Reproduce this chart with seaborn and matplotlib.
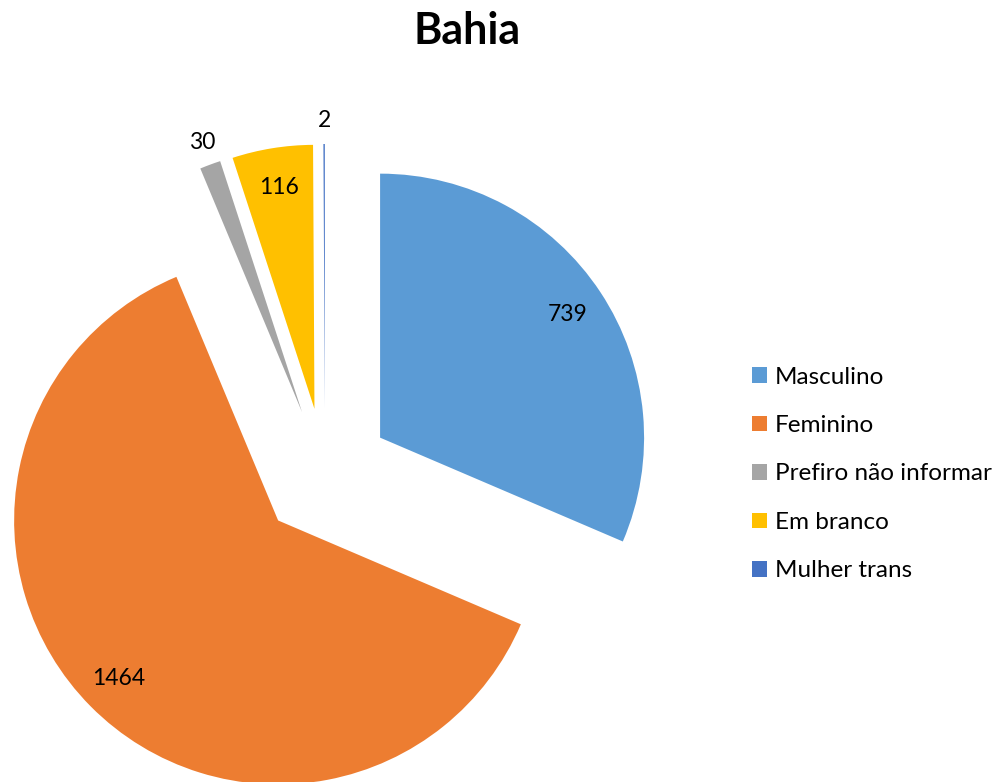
import numpy as np
import seaborn as sns
import matplotlib.pyplot as plt

title = 'Bahia'
categories = ['Masculino', 'Feminino', 'Prefiro não informar', 'Em branco', 'Mulher trans']
counts = [739, 1464, 30, 116, 2]
colors = ['#5B9BD5', '#ED7D31', '#A5A5A5', '#FFC000', '#4472C4']


def draw_pie():
    sns.set_theme(style='white')
    plt.rcParams['font.family'] = ['Lato', 'DejaVu Sans']
    plt.rcParams['text.color'] = 'black'

    fig = plt.figure(figsize=(10.04, 7.82), dpi=100)
    ax = fig.add_axes([0, 0, 1, 1])
    palette = sns.color_palette(colors)

    wedges, _ = ax.pie(counts, colors=palette, startangle=90, counterclock=False,
                       explode=[0.25] * len(counts), radius=1.0,
                       wedgeprops={'linewidth': 0})

    total = sum(counts)
    for wedge, value in zip(wedges, counts):
        mid = np.deg2rad((wedge.theta1 + wedge.theta2) / 2)
        dist = 0.85 if value / total > 0.03 else 1.09
        cx, cy = wedge.center
        ax.text(cx + dist * np.cos(mid), cy + dist * np.sin(mid), str(value),
                ha='center', va='center', fontsize=16.5, color='black')

    # pie centre at about (325, 474) px, radius ~264 px
    scale = 264.0
    ax.set_xlim(-325 / scale, (1004 - 325) / scale)
    ax.set_ylim(-(782 - 474) / scale, 474 / scale)
    ax.set_aspect('equal')
    ax.axis('off')

    fig.text(467 / 1004, 1 - 31 / 782, title, ha='center', va='center',
             fontsize=31, fontweight='bold', color='black')

    fig.legend(wedges, categories, loc='center left',
               bbox_to_anchor=(752 / 1004, 1 - 474 / 782), frameon=False,
               fontsize=17.5, handlelength=0.6, handleheight=0.6,
               handletextpad=0.35, labelspacing=1.13, borderpad=0,
               borderaxespad=0, labelcolor='black')

    fig.savefig('out.png', dpi=100)


def main():
    draw_pie()


if __name__ == '__main__':
    main()
